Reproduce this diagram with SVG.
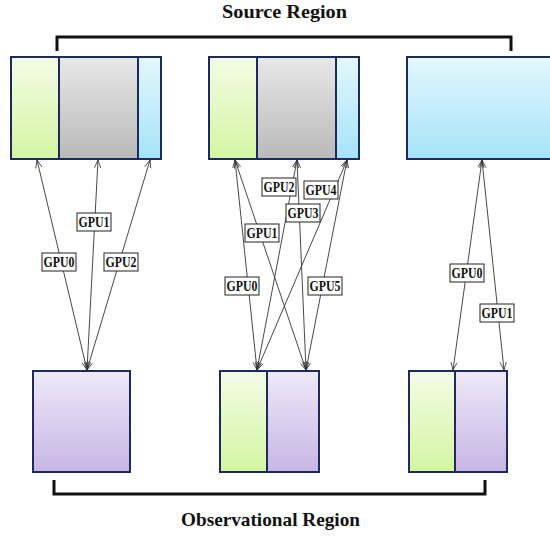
<svg xmlns="http://www.w3.org/2000/svg" width="550" height="537" viewBox="0 0 550 537">
<defs>
<linearGradient id="gGreen" x1="0" y1="0" x2="0" y2="1"><stop offset="0" stop-color="#f3fce6"/><stop offset="1" stop-color="#d4f5a2"/></linearGradient>
<linearGradient id="gGray" x1="0" y1="0" x2="0" y2="1"><stop offset="0" stop-color="#e8e8e8"/><stop offset="1" stop-color="#b9b9b9"/></linearGradient>
<linearGradient id="gBlue" x1="0" y1="0" x2="0" y2="1"><stop offset="0" stop-color="#e4f7fd"/><stop offset="1" stop-color="#a5e3f8"/></linearGradient>
<linearGradient id="gPurple" x1="0" y1="0" x2="0" y2="1"><stop offset="0" stop-color="#eee9f8"/><stop offset="1" stop-color="#c8b5e5"/></linearGradient>
<marker id="arr" viewBox="0 0 10 10" refX="10" refY="5" markerWidth="8" markerHeight="8" markerUnits="userSpaceOnUse" orient="auto-start-reverse">
<path d="M0,1 L10,5 L0,9" fill="none" stroke="#333" stroke-width="1"/>
</marker>
</defs>
<style>
.box{stroke:#1c2b5c;stroke-width:2}
.green{fill:url(#gGreen)}
.gray{fill:url(#gGray)}
.blue{fill:url(#gBlue)}
.purple{fill:url(#gPurple)}
.bracket{fill:none;stroke:#111;stroke-width:3}
.title{font-family:"Liberation Serif",serif;font-weight:bold;font-size:19px;fill:#111;text-anchor:middle}
.conn line{stroke:#333;stroke-width:0.9;marker-start:url(#arr);marker-end:url(#arr)}
.lbl rect{fill:#fff;stroke:#222;stroke-width:1}
.lbl text{font-family:"Liberation Serif",serif;font-weight:bold;font-size:14px;fill:#111;text-anchor:middle}
</style>
<rect width="550" height="537" fill="#fff"/>

<g id="source-title"><text class="title" x="284.5" y="18" textLength="125" lengthAdjust="spacingAndGlyphs">Source Region</text></g>
<g id="source-bracket"><path class="bracket" d="M57,51 V37 H511 V51"/></g>

<g id="srcA">
<rect class="green" x="11" y="57" width="48" height="102"/>
<rect class="gray" x="59" y="57" width="79" height="102"/>
<rect class="blue" x="138" y="57" width="23" height="102"/>
<rect class="box" x="11" y="57" width="150" height="102" fill="none"/>
<line class="box" x1="59" y1="57" x2="59" y2="159"/>
<line class="box" x1="138" y1="57" x2="138" y2="159"/>
</g>
<g id="srcB">
<rect class="green" x="209" y="57" width="48" height="102"/>
<rect class="gray" x="257" y="57" width="79" height="102"/>
<rect class="blue" x="336" y="57" width="23" height="102"/>
<rect class="box" x="209" y="57" width="150" height="102" fill="none"/>
<line class="box" x1="257" y1="57" x2="257" y2="159"/>
<line class="box" x1="336" y1="57" x2="336" y2="159"/>
</g>
<g id="srcC">
<rect class="blue box" x="407" y="57" width="150" height="102"/>
</g>

<g id="obsD">
<rect class="purple box" x="33" y="371" width="97" height="101"/>
</g>
<g id="obsE">
<rect class="green" x="220" y="371" width="47" height="101"/>
<rect class="purple" x="267" y="371" width="52" height="101"/>
<rect class="box" x="220" y="371" width="99" height="101" fill="none"/>
<line class="box" x1="267" y1="371" x2="267" y2="472"/>
</g>
<g id="obsF">
<rect class="green" x="409" y="371" width="46" height="101"/>
<rect class="purple" x="455" y="371" width="52" height="101"/>
<rect class="box" x="409" y="371" width="98" height="101" fill="none"/>
<line class="box" x1="455" y1="371" x2="455" y2="472"/>
</g>

<g id="obs-bracket"><path class="bracket" d="M54,480 V494 H485 V480"/></g>
<g id="obs-title"><text class="title" x="270.5" y="526" textLength="179" lengthAdjust="spacingAndGlyphs">Observational Region</text></g>

<g id="connectors" class="conn">
<line x1="87" y1="370" x2="37" y2="160"/>
<line x1="87" y1="370" x2="98" y2="160"/>
<line x1="87" y1="370" x2="150" y2="160"/>
<line x1="257" y1="370" x2="235" y2="160"/>
<line x1="306" y1="370" x2="235" y2="160"/>
<line x1="257" y1="370" x2="297" y2="160"/>
<line x1="306" y1="370" x2="297" y2="160"/>
<line x1="257" y1="370" x2="347" y2="160"/>
<line x1="306" y1="370" x2="347" y2="160"/>
<line x1="453" y1="370" x2="482" y2="160"/>
<line x1="504" y1="370" x2="482" y2="160"/>
</g>

<g id="labels" class="lbl">
<rect x="42" y="253" width="34" height="18"/><text x="59" y="267" textLength="31" lengthAdjust="spacingAndGlyphs">GPU0</text>
<rect x="77" y="213" width="34" height="18"/><text x="94" y="227" textLength="31" lengthAdjust="spacingAndGlyphs">GPU1</text>
<rect x="104" y="253" width="34" height="18"/><text x="121" y="267" textLength="31" lengthAdjust="spacingAndGlyphs">GPU2</text>
<rect x="225" y="277" width="34" height="18"/><text x="242" y="291" textLength="31" lengthAdjust="spacingAndGlyphs">GPU0</text>
<rect x="245" y="224" width="34" height="18"/><text x="262" y="238" textLength="31" lengthAdjust="spacingAndGlyphs">GPU1</text>
<rect x="262" y="178" width="34" height="18"/><text x="279" y="192" textLength="31" lengthAdjust="spacingAndGlyphs">GPU2</text>
<rect x="286" y="204" width="34" height="18"/><text x="303" y="218" textLength="31" lengthAdjust="spacingAndGlyphs">GPU3</text>
<rect x="304" y="181" width="34" height="18"/><text x="321" y="195" textLength="31" lengthAdjust="spacingAndGlyphs">GPU4</text>
<rect x="308" y="277" width="34" height="18"/><text x="325" y="291" textLength="31" lengthAdjust="spacingAndGlyphs">GPU5</text>
<rect x="450" y="264" width="34" height="18"/><text x="467" y="278" textLength="31" lengthAdjust="spacingAndGlyphs">GPU0</text>
<rect x="480" y="304" width="34" height="18"/><text x="497" y="318" textLength="31" lengthAdjust="spacingAndGlyphs">GPU1</text>
</g>
</svg>
